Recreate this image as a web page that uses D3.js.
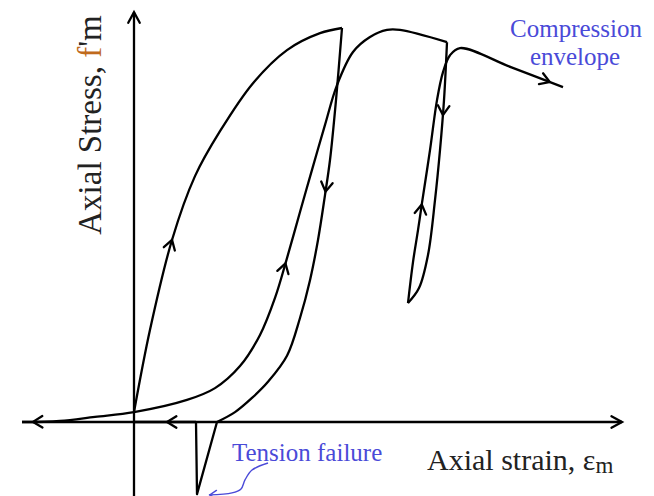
<!DOCTYPE html>
<html><head><meta charset="utf-8">
<script src="https://cdn.jsdelivr.net/npm/d3@7"></script>
<style>html,body{margin:0;padding:0;background:#fff;} svg{display:block;}</style>
</head><body>
<svg id="chart" width="654" height="496"></svg>
<script>
// Normalised axial strain (x) and axial stress as a fraction of f'm (y), one array per branch
const firstLoading = [[0,0.025],[0.16,0.234],[0.38,0.462],[0.61,0.624],[0.86,0.738],[1.19,0.860],[1.53,0.944],[1.86,0.987],[2.08,1.0]];
const firstUnloading = [[2.08,1.0],[2.02,0.817],[1.96,0.665],[1.91,0.576],[1.84,0.462],[1.76,0.360],[1.66,0.264],[1.53,0.168],[1.34,0.102],[1.18,0.061],[1.01,0.025],[0.83,0]];
const tensionBranch = [[0.83,0],[0.63,-0.183],[0.62,0]];
const tensionReturn = [[0.62,0],[0,0]];
const secondLoading = [[-1.12,0],[-0.74,0.0025],[-0.39,0.013],[0,0.025],[0.53,0.056],[0.81,0.086],[1.06,0.142],[1.26,0.221],[1.41,0.315],[1.53,0.416],[1.66,0.533],[1.78,0.640],[1.91,0.754],[2.03,0.855],[2.19,0.939],[2.36,0.977],[2.53,0.995],[2.66,0.995],[3.13,0.964]];
const secondUnloading = [[3.13,0.964],[3.10,0.817],[3.06,0.690],[3.01,0.563],[2.94,0.424],[2.85,0.340],[2.74,0.302]];
const reloadingEnvelope = [[2.74,0.302],[2.79,0.406],[2.84,0.487],[2.88,0.556],[2.96,0.690],[3.03,0.817],[3.09,0.888],[3.16,0.931],[3.26,0.949],[3.775,0.9],[4.29,0.85]];
const failurePointer = [[1.34,-0.104],[1.18,-0.122],[1.11,-0.147],[1.07,-0.170],[0.98,-0.180],[0.75,-0.185]];

// Direction arrows along the branches: [branch, strain, stress, reversed]
const flowArrows = [
  ["firstLoading", 0.38, 0.462, false],
  ["firstUnloading", 1.93, 0.584, false],
  ["secondLoading", 1.49, 0.404, false],
  ["secondLoading", -1.01, 0, true],
  ["tensionReturn", 0.33, 0, false],
  ["secondUnloading", 3.08, 0.779, false],
  ["reloadingEnvelope", 2.87, 0.553, false],
  ["reloadingEnvelope", 4.16, 0.863, false],
  ["failurePointer", 0.76, -0.185, false]
];

const xDomain = [-1.12, 4.91];
const yDomain = [0, 1];
const xAxisEnds = [-1.12, 4.88];
const yAxisEnds = [-0.19, 1.04];

const labels = {
  yTitle: ["Axial Stress, ", "f", "'m"],
  xTitle: ["Axial strain, ε", "m"],
  tension: "Tension failure",
  envelope: ["Compression", "envelope"]
};

const svg = d3.select("#chart");
const x = d3.scaleLinear().domain(xDomain).range([22, 625]);
const y = d3.scaleLinear().domain(yDomain).range([422, 28]);

const smooth = d3.line().x(d => x(d[0])).y(d => y(d[1])).curve(d3.curveCatmullRom.alpha(0.5));
const straight = d3.line().x(d => x(d[0])).y(d => y(d[1]));

const ink = "#000";
const blue = "#4a4ad8";
const lw = 2.3;

// axes
svg.append("path").attr("d", straight([[xAxisEnds[0], 0], [xAxisEnds[1], 0]]))
  .attr("stroke", ink).attr("stroke-width", lw).attr("fill", "none");
svg.append("path").attr("d", straight([[0, yAxisEnds[0]], [0, yAxisEnds[1]]]))
  .attr("stroke", ink).attr("stroke-width", lw).attr("fill", "none");

const branches = {
  firstLoading: [firstLoading, smooth],
  firstUnloading: [firstUnloading, smooth],
  tensionBranch: [tensionBranch, straight],
  tensionReturn: [tensionReturn, straight],
  secondLoading: [secondLoading, smooth],
  secondUnloading: [secondUnloading, smooth],
  reloadingEnvelope: [reloadingEnvelope, smooth]
};
const nodes = {};
Object.entries(branches).forEach(([name, [pts, gen]]) => {
  nodes[name] = svg.append("path").attr("d", gen(pts))
    .attr("fill", "none").attr("stroke", ink).attr("stroke-width", lw)
    .attr("stroke-linejoin", "round").node();
});
nodes.failurePointer = svg.append("path").attr("d", smooth(failurePointer))
  .attr("fill", "none").attr("stroke", blue).attr("stroke-width", 1.4).node();

function chevron(tip, angle, len, spread, color, w) {
  const a1 = angle + Math.PI - spread, a2 = angle + Math.PI + spread;
  const p1 = [tip[0] + len * Math.cos(a1), tip[1] + len * Math.sin(a1)];
  const p2 = [tip[0] + len * Math.cos(a2), tip[1] + len * Math.sin(a2)];
  svg.append("path").attr("d", `M${p1}L${tip}L${p2}`)
    .attr("fill", "none").attr("stroke", color).attr("stroke-width", w)
    .attr("stroke-linejoin", "miter").attr("stroke-linecap", "round");
}

function arrowOn(name, sx, sy, reversed) {
  const node = nodes[name];
  const total = node.getTotalLength();
  const px = x(sx), py = y(sy);
  let best = 0, bestD = Infinity;
  for (let l = 0; l <= total; l += 0.5) {
    const p = node.getPointAtLength(l);
    const d = (p.x - px) ** 2 + (p.y - py) ** 2;
    if (d < bestD) { bestD = d; best = l; }
  }
  const a = node.getPointAtLength(Math.max(0, best - 3));
  const b = node.getPointAtLength(Math.min(total, best + 3));
  let ang = Math.atan2(b.y - a.y, b.x - a.x);
  if (reversed) ang += Math.PI;
  const p = node.getPointAtLength(best);
  const isPointer = name === "failurePointer";
  chevron([p.x, p.y], ang, isPointer ? 8 : 11, 0.55, isPointer ? blue : ink, isPointer ? 1.4 : lw);
}
flowArrows.forEach(a => arrowOn(a[0], a[1], a[2], a[3]));

// axis arrowheads
chevron([x(0), y(yAxisEnds[1])], -Math.PI / 2, 12, 0.5, ink, lw);
chevron([x(xAxisEnds[1]), y(0)], 0, 12, 0.5, ink, lw);

// titles
const serif = "'Liberation Serif', 'Times New Roman', serif";
const yt = svg.append("text")
  .attr("transform", "translate(101,125) rotate(-90)")
  .attr("text-anchor", "middle").attr("font-family", serif).attr("font-size", 33).attr("fill", "#222");
yt.append("tspan").text(labels.yTitle[0]);
yt.append("tspan").attr("fill", "#c06a1c").text(labels.yTitle[1]);
yt.append("tspan").text(labels.yTitle[2]);

const xt = svg.append("text").attr("x", 427).attr("y", 470)
  .attr("font-family", serif).attr("font-size", 30).attr("fill", "#222");
xt.append("tspan").text(labels.xTitle[0]);
xt.append("tspan").attr("font-size", 23).attr("dy", 3).text(labels.xTitle[1]);

svg.append("text").attr("x", 232).attr("y", 461)
  .attr("font-family", serif).attr("font-size", 25).attr("fill", blue).text(labels.tension);

svg.append("text").attr("x", 576).attr("y", 37).attr("text-anchor", "middle")
  .attr("font-family", serif).attr("font-size", 25).attr("fill", blue).text(labels.envelope[0]);
svg.append("text").attr("x", 575).attr("y", 65).attr("text-anchor", "middle")
  .attr("font-family", serif).attr("font-size", 25).attr("fill", blue).text(labels.envelope[1]);
</script>
</body></html>
